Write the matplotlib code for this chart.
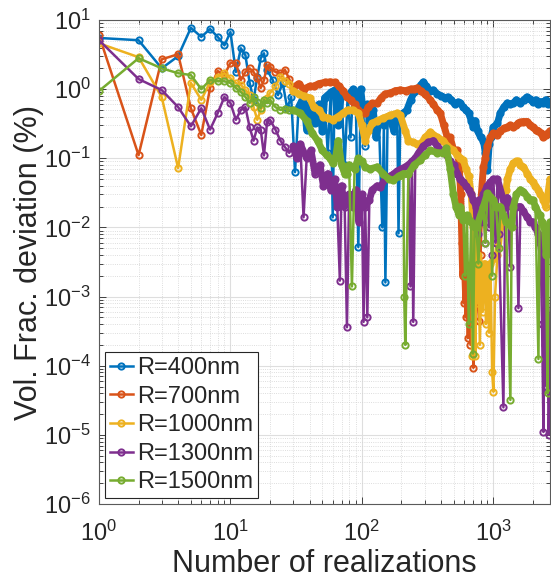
import numpy as np
import matplotlib
matplotlib.use('Agg')
import matplotlib.pyplot as plt
from matplotlib.ticker import LogLocator, NullFormatter

plt.rcParams['font.family'] = ['Liberation Sans', 'DejaVu Sans']
plt.rcParams['mathtext.fontset'] = 'custom'
plt.rcParams['mathtext.rm'] = 'Liberation Sans'

# ---- data (N realizations, deviation in %) ----
n_400 = [1, 2, 3, 4, 5, 6, 7, 8, 9, 10, 11, 12, 13, 14, 15, 16, 17, 18, 19, 21, 23, 25, 27, 29,
         31, 33, 36, 38, 41, 44, 47, 50, 52, 55, 58, 60, 62, 66, 70, 74, 78, 82, 86, 90, 94, 98,
         102, 106, 110, 116, 122, 128, 135, 143, 147, 151, 157, 165, 175, 186, 190, 196, 207,
         220, 235, 250, 265, 280, 294, 310, 330, 350, 375, 400, 430, 450, 480, 510, 540, 560,
         590, 620, 650, 680, 705, 730, 760, 800, 840, 870, 902, 930, 960, 1000, 1075, 1130,
         1200, 1280, 1350, 1420, 1500, 1600, 1700, 1800, 1900, 2000, 2100, 2200, 2300, 2400,
         2500, 2600, 2700]
v_400 = [5.5, 5.1, 2.0, 3.0, 7.7, 5.7, 7.4, 5.7, 4.3, 6.7, 1.77, 3.9, 3.1, 1.23, 0.70, 1.5,
         2.8, 3.3, 1.9, 1.35, 0.82, 1.23, 0.53, 0.77, 0.063, 0.55, 0.77, 0.26, 0.63, 0.32, 0.6,
         0.25, 0.75, 0.12, 0.9, 0.014, 0.97, 0.3, 0.9, 0.08, 0.8, 0.2, 1.0, 0.6, 0.0052, 1.0,
         0.5, 0.15, 0.6, 0.35, 0.5, 0.2, 0.32, 0.010, 0.3, 0.0016, 0.4, 0.36, 0.25, 0.4, 0.0082,
         0.35, 0.45, 0.5, 0.7, 0.9, 0.97, 1.15, 1.27, 1.1, 0.95, 0.97, 0.85, 0.8, 0.75, 0.77,
         0.7, 0.6, 0.65, 0.63, 0.55, 0.5, 0.45, 0.35, 0.28, 0.35, 0.25, 0.2, 0.18, 0.12, 0.068,
         0.16, 0.2, 0.28, 0.32, 0.45, 0.55, 0.63, 0.6, 0.63, 0.7, 0.63, 0.7, 0.77, 0.72, 0.65,
         0.7, 0.6, 0.66, 0.63, 0.7, 0.6, 0.65]

n_700 = [1, 2, 3, 4, 5, 6, 7, 8, 9, 10, 11, 12, 13, 14, 15, 16, 17, 18, 19, 20, 22, 24, 26, 28,
         30, 33, 36, 40, 43, 47, 52, 57, 62, 67, 72, 77, 82, 88, 94, 100, 106, 112, 120, 131,
         140, 150, 165, 180, 196, 215, 235, 250, 264, 280, 300, 332, 350, 375, 395, 420, 447,
         470, 500, 533, 550, 565, 575, 585, 595, 605, 615, 625, 640, 655, 670, 690, 705, 720,
         740, 760, 780, 800, 820, 841, 870, 902, 951, 1002, 1075, 1130, 1200, 1280, 1350, 1420,
         1500, 1553, 1608, 1695, 1818, 1916, 2000, 2100, 2205, 2300, 2408, 2500, 2600, 2700]
v_700 = [6.0, 0.111, 2.7, 3.2, 0.53, 0.217, 1.04, 1.83, 1.6, 2.4, 2.4, 1.35, 1.77, 2.0, 1.77,
         1.44, 1.04, 1.35, 2.2, 2.1, 1.77, 1.7, 1.9, 1.4, 1.04, 1.2, 1.0, 1.1, 1.1, 1.2, 1.25,
         1.27, 1.25, 1.1, 0.95, 0.77, 0.7, 0.6, 0.5, 0.45, 0.45, 0.55, 0.62, 0.63, 0.75, 0.85,
         0.88, 0.95, 0.97, 0.95, 1.0, 1.0, 1.04, 0.95, 0.85, 0.7, 0.6, 0.5, 0.45, 0.3, 0.2,
         0.2, 0.13, 0.13, 0.08, 0.03, 0.006, 0.002, 0.0008, 0.003, 0.0005, 0.002, 0.00025,
         0.0015, 0.0002, 0.001, 0.000093, 0.0015, 0.003, 0.0008, 0.00045, 0.004, 0.02, 0.075,
         0.1, 0.15, 0.2, 0.23, 0.22, 0.25, 0.27, 0.28, 0.3, 0.28, 0.3, 0.32, 0.33, 0.34, 0.34,
         0.3, 0.28, 0.26, 0.25, 0.23, 0.2, 0.22, 0.23, 0.25]

n_1000 = [1, 2, 3, 4, 5, 6, 7, 8, 9, 10, 11, 12, 13, 14, 15, 16, 17, 18, 19, 20, 22, 24, 26,
          28, 30, 33, 36, 40, 43, 47, 51, 55, 60, 66, 72, 78, 85, 94, 100, 106, 112, 120, 131,
          145, 165, 186, 196, 214, 226, 246, 264, 279, 304, 332, 350, 375, 417, 447, 497, 533,
          561, 592, 620, 650, 680, 690, 705, 720, 731, 745, 757, 770, 790, 810, 830, 860, 880,
          902, 930, 951, 980, 1002, 1030, 1075, 1132, 1194, 1250, 1280, 1350, 1422, 1500, 1553,
          1608, 1695, 1818, 1916, 2000, 2093, 2205, 2283, 2408, 2500, 2600, 2700]
v_1000 = [4.6, 2.9, 0.77, 0.072, 1.23, 0.70, 1.27, 1.5, 1.7, 1.44, 1.23, 1.15, 0.97, 0.83,
          0.55, 0.36, 0.5, 0.70, 0.74, 0.88, 1.1, 1.5, 1.3, 1.2, 0.95, 0.85, 0.8, 0.75, 0.55,
          0.5, 0.4, 0.38, 0.36, 0.4, 0.45, 0.5, 0.5, 0.45, 0.3, 0.18, 0.25, 0.32, 0.35, 0.38,
          0.42, 0.45, 0.42, 0.25, 0.18, 0.17, 0.16, 0.16, 0.2, 0.24, 0.22, 0.2, 0.18, 0.15, 0.13,
          0.11, 0.1, 0.094, 0.07, 0.055, 0.03, 0.00014, 0.01, 0.0014, 0.00014, 0.003, 0.0008,
          0.004, 0.0002, 0.002, 0.0006, 0.003, 0.0004, 0.0017, 0.0003, 0.003, 0.00008, 0.000042,
          0.001, 0.004, 0.01, 0.02, 0.035, 0.05, 0.07, 0.085, 0.09, 0.09, 0.08, 0.075, 0.06,
          0.05, 0.045, 0.04, 0.035, 0.03, 0.025, 0.02, 0.03, 0.05]

n_1300 = [1, 2, 3, 4, 5, 6, 7, 8, 9, 10, 11, 12, 13, 14, 15, 16, 17, 18, 19, 20, 22, 24, 26,
          28, 30, 32, 34, 36, 38, 41, 44, 48, 51, 55, 58, 62, 65, 68, 70, 74, 77, 80, 85, 90,
          95, 100, 103, 106, 110, 114, 120, 131, 138, 150, 165, 175, 186, 200, 226, 234, 240,
          246, 255, 270, 294, 320, 350, 375, 400, 430, 470, 500, 533, 560, 592, 620, 650, 680,
          705, 740, 760, 780, 800, 840, 870, 902, 930, 951, 980, 1002, 1040, 1075, 1100, 1194,
          1230, 1280, 1349, 1380, 1422, 1500, 1553, 1608, 1695, 1818, 1916, 2000, 2093, 2205,
          2283, 2350, 2408, 2450, 2494, 2550, 2585, 2640, 2700]
v_1300 = [5.1, 1.4, 0.97, 0.55, 0.29, 0.53, 0.26, 0.45, 0.77, 0.63, 0.36, 0.5, 0.55, 0.28,
          0.18, 0.28, 0.26, 0.11, 0.34, 0.36, 0.26, 0.18, 0.145, 0.12, 0.15, 0.1, 0.16, 0.014,
          0.1, 0.13, 0.06, 0.08, 0.04, 0.06, 0.035, 0.05, 0.02, 0.0017, 0.04, 0.02, 0.00036,
          0.03, 0.02, 0.035, 0.012, 0.03, 0.00043, 0.02, 0.0005, 0.025, 0.035, 0.04, 0.038,
          0.05, 0.055, 0.06, 0.065, 0.07, 0.08, 0.0014, 0.09, 0.00043, 0.1, 0.12, 0.15, 0.17,
          0.18, 0.15, 0.13, 0.12, 0.09, 0.08, 0.06, 0.05, 0.045, 0.04, 0.035, 0.03, 0.025, 0.02,
          0.008, 0.025, 0.012, 0.03, 0.006, 0.04, 0.01, 0.045, 0.004, 0.05, 0.006, 0.05, 0.008,
          0.000025, 0.02, 0.027, 0.0027, 0.02, 0.022, 0.02, 0.00068, 0.02, 0.017, 0.014, 0.012,
          0.012, 0.01, 0.008, 0.006, 0.0004, 0.000011, 0.002, 0.0002, 0.00005, 0.0003, 0.00001,
          0.0001]

n_1500 = [1, 2, 3, 4, 5, 6, 7, 8, 9, 10, 11, 12, 13, 14, 15, 16, 17, 18, 19, 20, 22, 24, 26,
          28, 30, 34, 38, 42, 46, 50, 54, 57, 60, 63, 66, 70, 74, 77, 80, 84, 88, 94, 100, 106,
          115, 131, 145, 160, 173, 190, 207, 210, 214, 226, 250, 279, 300, 332, 375, 417, 440,
          470, 497, 520, 550, 561, 592, 610, 630, 650, 680, 700, 720, 745, 770, 800, 841, 870,
          902, 951, 980, 1002, 1050, 1100, 1132, 1194, 1250, 1349, 1380, 1422, 1500, 1608, 1695,
          1818, 1916, 2000, 2093, 2205, 2250, 2350, 2450, 2520, 2585, 2640, 2700]
v_1500 = [0.94, 2.8, 2.0, 1.7, 1.6, 1.0, 1.35, 1.3, 1.3, 1.23, 1.04, 0.91, 0.77, 0.63, 0.77,
          0.65, 0.53, 0.70, 0.63, 0.7, 0.55, 0.5, 0.52, 0.5, 0.5, 0.45, 0.35, 0.23, 0.18, 0.13,
          0.11, 0.1, 0.085, 0.1, 0.18, 0.08, 0.06, 0.06, 0.08, 0.0014, 0.07, 0.1, 0.09, 0.075,
          0.07, 0.075, 0.06, 0.05, 0.048, 0.055, 0.06, 0.001, 0.0002, 0.06, 0.08, 0.094, 0.11,
          0.13, 0.12, 0.12, 0.14, 0.07, 0.03, 0.02, 0.015, 0.02, 0.013, 0.002, 0.015, 0.0004,
          0.012, 0.00015, 0.01, 0.01, 0.003, 0.015, 0.02, 0.006, 0.031, 0.028, 0.002, 0.025,
          0.02, 0.005, 0.02, 0.015, 0.012, 0.000032, 0.01, 0.02, 0.03, 0.035, 0.033, 0.028,
          0.025, 0.025, 0.02, 0.000125, 0.015, 0.012, 0.01, 0.004, 0.00004, 0.008, 0.012]

labels = ['R=400nm', 'R=700nm', 'R=1000nm', 'R=1300nm', 'R=1500nm']
colors = ['#0072BD', '#D95319', '#EDB120', '#7E2F8E', '#77AC30']
series = [(n_400, v_400), (n_700, v_700), (n_1000, v_1000), (n_1300, v_1300), (n_1500, v_1500)]


def band_mask(n, v, start=30):
    # points of the dense tail that are not isolated downward spikes
    keep = n >= start
    for i in range(1, len(v) - 1):
        if v[i] < 0.3 * max(v[i - 1], v[i + 1]):
            keep[i] = False
    return keep


fig = plt.figure(figsize=(5.51, 5.87), dpi=100)
ax = fig.add_axes([99 / 551, 83 / 587, 451 / 551, 484 / 587])

for (n, v), c, lab in zip(series, colors, labels):
    n = np.array(n)
    v = np.array(v)
    keep = band_mask(n, v)
    # dense part of the curve: overlapping markers form a thick band
    ax.plot(n[keep], v[keep], '-', color=c, lw=5, solid_joinstyle='round',
            solid_capstyle='round')
    ax.plot(n, v, '-o', color=c, lw=1.8, ms=4.5, mfc='none', mew=1.4, label=lab)

ax.set_xscale('log')
ax.set_yscale('log')
ax.set_xlim(1, 2700)
ax.set_ylim(1e-6, 1e1)

ax.xaxis.set_major_locator(LogLocator(base=10, numticks=20))
ax.yaxis.set_major_locator(LogLocator(base=10, numticks=20))
ax.xaxis.set_minor_locator(LogLocator(base=10, subs=np.arange(2, 10), numticks=100))
ax.yaxis.set_minor_locator(LogLocator(base=10, subs=np.arange(2, 10), numticks=100))
ax.xaxis.set_minor_formatter(NullFormatter())
ax.yaxis.set_minor_formatter(NullFormatter())

ax.grid(True, which='major', color='#dedede', lw=0.8, ls='-')
ax.grid(True, which='minor', color='#d2d2d2', lw=0.6, ls=':')
ax.set_axisbelow(True)

ax.tick_params(which='both', direction='in', top=True, right=True, colors='#262626',
               labelsize=17, width=0.6)
ax.tick_params(which='major', length=5, pad=6)
ax.tick_params(axis='x', which='major', pad=12)
ax.tick_params(which='minor', length=3)
for sp in ax.spines.values():
    sp.set_color('#5a5a5a')
    sp.set_linewidth(0.8)

ax.set_xlabel('Number of realizations', fontsize=22, color='#262626', labelpad=2)
ax.set_ylabel('Vol. Frac. deviation (%)', fontsize=22, color='#262626', labelpad=0)

leg = ax.legend(loc='lower left', fontsize=17, frameon=True, fancybox=False,
                edgecolor='#262626', framealpha=1, handlelength=1.0, handletextpad=0.15,
                borderpad=0.2, labelspacing=0.28, borderaxespad=0.25)
leg.get_frame().set_linewidth(0.8)
for t in leg.get_texts():
    t.set_color('#262626')

fig.savefig('out.png', dpi=100)
